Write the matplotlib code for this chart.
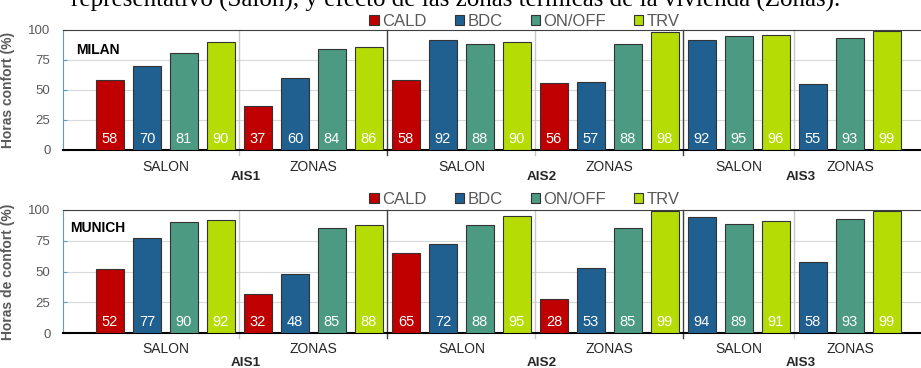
import matplotlib
matplotlib.use("Agg")
import matplotlib.pyplot as plt
from matplotlib.patches import Patch
from matplotlib.transforms import blended_transform_factory

plt.rcParams["font.family"] = ["Liberation Sans", "DejaVu Sans"]

series = ["CALD", "BDC", "ON/OFF", "TRV"]
colors = ["#C00000", "#1F6091", "#4C9A82", "#B5DC05"]
systems = ["AIS1", "AIS2", "AIS3"]
zones = ["SALON", "ZONAS"]

# one value per block: AIS1-SALON, AIS1-ZONAS, AIS2-SALON, AIS2-ZONAS, AIS3-SALON, AIS3-ZONAS
milan_cald = [58, 37, 58, 56, None, None]
milan_bdc = [70, 60, 92, 57, 92, 55]
milan_onoff = [81, 84, 88, 88, 95, 93]
milan_trv = [90, 86, 90, 98, 96, 99]

munich_cald = [52, 32, 65, 28, None, None]
munich_bdc = [77, 48, 72, 53, 94, 58]
munich_onoff = [90, 85, 88, 85, 89, 93]
munich_trv = [92, 88, 95, 99, 91, 99]

GRAY = "#595959"
W, H = 921, 368

fig = plt.figure(figsize=(W / 100, H / 100), dpi=100)

# caption line of the page, cut by the top edge
fig.text(840 / W, 1 - 6.5 / H,
         "representativo (Salón), y efecto de las zonas térmicas de la vivienda (Zonas).",
         ha="right", va="baseline", fontsize=18, family="Liberation Serif", color="black")


def draw(ax, vals, city, ylabel, inner_y, outer_y, city_x, city_y):
    pos = 0
    blocks = []
    for b in range(6):
        first = pos
        for s in range(4):
            v = vals[s][b]
            if v is None:
                continue
            ax.bar(pos, v, width=0.78, color=colors[s], edgecolor="#333333",
                   linewidth=0.8, zorder=3)
            ax.text(pos, 9, f"{v}", ha="center", va="center", color="white",
                    fontsize=10.5, zorder=4)
            pos += 1
        blocks.append((first, pos - 1))

    ax.set_xlim(-1.27, 21.92)
    ax.set_ylim(0, 100)
    ax.set_yticks([0, 25, 50, 75, 100])
    ax.set_xticks([])
    ax.grid(axis="y", color="#d9d9d9", linewidth=0.8, zorder=0)

    # separators between blocks: light inside a system, dark between systems
    for b in range(5):
        x = blocks[b][1] + 0.5
        col = "#404040" if b % 2 == 1 else "#c8c8c8"
        ax.plot([x, x], [-4, 100], color=col, linewidth=1.0, clip_on=False, zorder=2)

    tr = blended_transform_factory(ax.transData, ax.transAxes)
    for b, (a, z) in enumerate(blocks):
        ax.text((a + z) / 2, inner_y, zones[b % 2], transform=tr, ha="center",
                va="center", fontsize=10, color="#262626")
    for k, name in enumerate(systems):
        a = blocks[2 * k][0]
        z = blocks[2 * k + 1][1]
        ax.text((a + z) / 2 + 0.18, outer_y, name, transform=tr, ha="center",
                va="center", fontsize=9.7, fontweight="bold", color="#262626")

    ax.text(city_x, city_y, city, transform=ax.transAxes, ha="left", va="center",
            fontsize=10, fontweight="bold", color="black")

    ax.set_ylabel(ylabel, fontsize=10, fontweight="bold", color=GRAY)
    ax.yaxis.set_label_coords(-48 / 858, 0.5)
    ax.tick_params(axis="y", direction="in", length=3, color="#5b9bc5",
                   labelcolor=GRAY, labelsize=9.5, pad=9)
    ax.spines["left"].set_color("#5b9bc5")
    ax.spines["top"].set_color("#404040")
    ax.spines["bottom"].set_color("black")
    ax.spines["bottom"].set_linewidth(1.5)
    ax.spines["right"].set_visible(False)


def legend(y_px):
    handles = [Patch(facecolor=c, edgecolor="#333333", linewidth=0.8) for c in colors]
    fig.legend(handles, series, loc="center", bbox_to_anchor=(524.5 / W, 1 - y_px / H),
               ncol=4, frameon=False, fontsize=12, labelcolor=GRAY,
               handlelength=0.55, handleheight=0.55, handletextpad=0.2,
               columnspacing=1.7, borderpad=0, borderaxespad=0)


ax1 = fig.add_axes([63 / W, 1 - 150 / H, 858 / W, 120 / H])
draw(ax1, [milan_cald, milan_bdc, milan_onoff, milan_trv], "MILAN",
     "Horas confort (%)", -17 / 120, -27 / 120, 13 / 858, 0.83)
legend(21)

ax2 = fig.add_axes([63 / W, 1 - 333 / H, 858 / W, 123 / H])
draw(ax2, [munich_cald, munich_bdc, munich_onoff, munich_trv], "MUNICH",
     "Horas de confort (%)", -16 / 123, -30 / 123, 7 / 858, 0.85)
legend(199)

fig.savefig("out.png", dpi=100)
